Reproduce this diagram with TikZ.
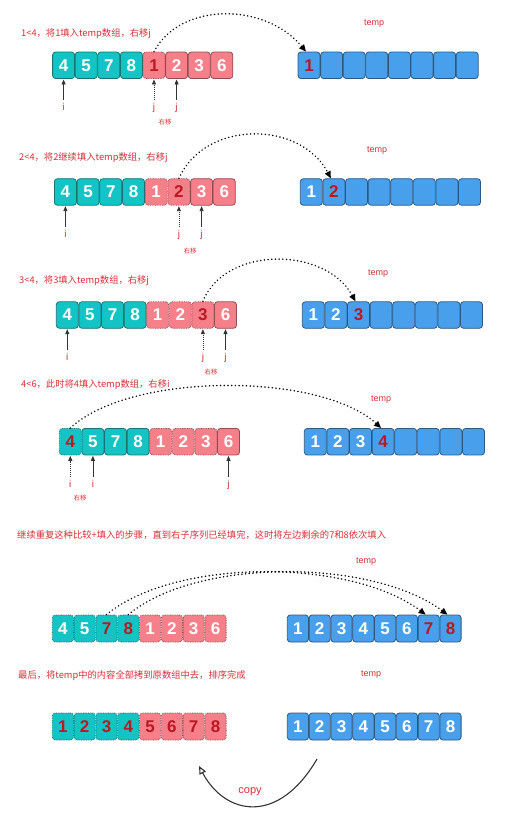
\documentclass[tikz,border=0pt]{standalone}
\usepackage{fontspec}
\setmainfont{Liberation Sans}
\newfontfamily\cjk{Noto Sans CJK SC}
\usetikzlibrary{arrows.meta}
\definecolor{tealF}{RGB}{20,196,196}
\definecolor{tealD}{RGB}{25,115,115}
\definecolor{pinkF}{RGB}{245,128,138}
\definecolor{pinkD}{RGB}{150,75,82}
\definecolor{blueF}{RGB}{72,160,236}
\definecolor{blueD}{RGB}{45,88,130}
\definecolor{txtR}{RGB}{214,48,56}
\definecolor{numR}{RGB}{185,25,35}
\tikzset{
 cell/.style={minimum width=22pt, minimum height=26.5pt, inner sep=0pt, rounded corners=3pt, line width=0.8pt, font=\fontsize{17}{17}\selectfont\bfseries, text=white},
 dotb/.style={dash pattern=on 0.8pt off 0.9pt},
 tb/.style={cell, fill=tealF, draw=tealD},
 tdw/.style={tb, dotb},
 tdr/.style={tdw, text=numR},
 pb/.style={cell, fill=pinkF, draw=pinkD},
 pdw/.style={pb, dotb},
 pdr/.style={pdw, text=numR},
 bw/.style={cell, fill=blueF, draw=blueD},
 br/.style={bw, text=numR},
 small/.style={minimum width=21.2pt, minimum height=27pt},
 heading/.style={anchor=west, inner sep=0pt, text=txtR, font=\cjk\fontsize{9.3}{11}\selectfont},
 templbl/.style={text=txtR, inner sep=0pt, font=\fontsize{9}{10}\selectfont},
 ptrlbl/.style={text=txtR, inner sep=0.5pt, text height=7pt, text depth=2pt, font=\fontsize{10}{10}\selectfont},
 movelbl/.style={text=txtR, inner sep=0pt, font=\cjk\fontsize{6.5}{7}\selectfont},
 ptr/.style={draw=black!80, line width=0.8pt, -{Triangle[length=5pt,width=4pt]}, shorten <=3pt, shorten >=0.5pt},
 ptrdot/.style={ptr, dash pattern=on 0.8pt off 1.2pt},
 conn/.style={draw=black, line width=1.6pt, line cap=round, dash pattern=on 0.1pt off 3.6pt, -{Triangle[length=7pt,width=6pt]}},
 copyarr/.style={draw=black!80, line width=1.1pt, -{Triangle[open,length=8pt,width=7pt]}},
}
\begin{document}
\begin{tikzpicture}[x=1pt,y=-1pt]
\useasboundingbox (0,0) rectangle (510,826);
\fill[white] (0,0) rectangle (510,826);

% ---------- Row 1
\node[heading] (h1) at (21,34) {1<4，将1填入temp数组，右移j};
\node[templbl] (tl1) at (374,24) {temp};
\foreach \n/\s [count=\k] in {4/tb,5/tb,7/tb,8/tb,1/pdr,2/pb,3/pb,6/pb}
  \node[\s] (a1\k) at ({63.6+(\k-1)*22.6},65.3) {\n};
\foreach \n/\s [count=\k] in {1/br,/bw,/bw,/bw,/bw,/bw,/bw,/bw}
  \node[\s] (t1\k) at ({309+(\k-1)*22.6},65.3) {\n};
\node[ptrlbl] (i1) at (a11 |- 0,108) {i};
\node[ptrlbl] (j1a) at (a15 |- 0,108) {j};
\node[ptrlbl] (j1b) at (a16 |- 0,108) {j};
\node[movelbl] (m1) at (165,122) {右移};
\draw[ptr] (i1.north) -- (a11.south);
\draw[ptrdot] (j1a.north) -- (a15.south);
\draw[ptr] (j1b.north) -- (a16.south);
\draw[conn] (a15.north) .. controls (180,2) and (265,2) .. ([xshift=-3pt]t11.north);

% ---------- Row 2
\node[heading] (h2) at (19,158) {2<4，将2继续填入temp数组，右移j};
\node[templbl] (tl2) at (377,151) {temp};
\foreach \n/\s [count=\k] in {4/tb,5/tb,7/tb,8/tb,1/pdw,2/pdr,3/pb,6/pb}
  \node[\s] (a2\k) at ({65.4+(\k-1)*22.7},192) {\n};
\foreach \n/\s [count=\k] in {1/bw,2/br,/bw,/bw,/bw,/bw,/bw,/bw}
  \node[\s] (t2\k) at ({311.3+(\k-1)*22.6},192) {\n};
\node[ptrlbl] (i2) at (a21 |- 0,235) {i};
\node[ptrlbl] (j2a) at (a26 |- 0,235) {j};
\node[ptrlbl] (j2b) at (a27 |- 0,235) {j};
\node[movelbl] (m2) at (190,251) {右移};
\draw[ptr] (i2.north) -- (a21.south);
\draw[ptrdot] (j2a.north) -- (a26.south);
\draw[ptr] (j2b.north) -- (a27.south);
\draw[conn] (a26.north) .. controls (205,120) and (300,120) .. ([xshift=-3pt]t22.north);

% ---------- Row 3
\node[heading] (h3) at (19,281) {3<4，将3填入temp数组，右移j};
\node[templbl] (tl3) at (378,274) {temp};
\foreach \n/\s [count=\k] in {4/tb,5/tb,7/tb,8/tb,1/pdw,2/pdw,3/pdr,6/pb}
  \node[\s] (a3\k) at ({67.3+(\k-1)*22.6},315) {\n};
\foreach \n/\s [count=\k] in {1/bw,2/bw,3/br,/bw,/bw,/bw,/bw,/bw}
  \node[\s] (t3\k) at ({313.3+(\k-1)*22.6},315) {\n};
\node[ptrlbl] (i3) at (a31 |- 0,358) {i};
\node[ptrlbl] (j3a) at (a37 |- 0,358) {j};
\node[ptrlbl] (j3b) at (a38 |- 0,358) {j};
\node[movelbl] (m3) at (211,372) {右移};
\draw[ptr] (i3.north) -- (a31.south);
\draw[ptrdot] (j3a.north) -- (a37.south);
\draw[ptr] (j3b.north) -- (a38.south);
\draw[conn] (a37.north) .. controls (225,246) and (325,246) .. ([xshift=-3pt]t33.north);

% ---------- Row 4
\node[heading] (h4) at (21,385) {4<6，此时将4填入temp数组，右移i};
\node[templbl] (tl4) at (381,400) {temp};
\foreach \n/\s [count=\k] in {4/tdr,5/tb,7/tb,8/tb,1/pdw,2/pdw,3/pdw,6/pb}
  \node[\s] (a4\k) at ({70.3+(\k-1)*22.6},441.7) {\n};
\foreach \n/\s [count=\k] in {1/bw,2/bw,3/bw,4/br,/bw,/bw,/bw,/bw}
  \node[\s] (t4\k) at ({315.3+(\k-1)*22.6},441.7) {\n};
\node[ptrlbl] (i4a) at (a41 |- 0,485) {i};
\node[ptrlbl] (i4b) at (a42 |- 0,485) {i};
\node[ptrlbl] (j4) at (a48 |- 0,485) {j};
\node[movelbl] (m4) at (80,498) {右移};
\draw[ptrdot] (i4a.north) -- (a41.south);
\draw[ptr] (i4b.north) -- (a42.south);
\draw[ptr] (j4.north) -- (a48.south);
\draw[conn] (a41.north) .. controls (130,372) and (320,372) .. ([xshift=-2pt]t44.north);

% ---------- Row 5
\node[heading] (h5) at (17,535) {继续重复这种比较+填入的步骤，直到右子序列已经填完，这时将左边剩余的7和8依次填入};
\node[templbl] (tl5) at (366,562) {temp};
\foreach \n/\s [count=\k] in {4/tdw,5/tdw,7/tdr,8/tdr,1/pdw,2/pdw,3/pdw,6/pdw}
  \node[\s,small] (a5\k) at ({62.9+(\k-1)*21.8},628.5) {\n};
\foreach \n/\s [count=\k] in {1/bw,2/bw,3/bw,4/bw,5/bw,6/bw,7/br,8/br}
  \node[\s,small] (t5\k) at ({297.9+(\k-1)*21.8},628.5) {\n};
\draw[conn] (a53.north) .. controls (175,558) and (350,558) .. ([xshift=-3pt]t57.north);
\draw[conn] (a54.north) .. controls (196,558) and (371,558) .. ([xshift=-3pt]t58.north);

% ---------- Row 6
\node[heading] (h6) at (18,676) {最后，将temp中的内容全部拷到原数组中去，排序完成};
\node[templbl] (tl6) at (371,675) {temp};
\foreach \n/\s [count=\k] in {1/tdr,2/tdr,3/tdr,4/tdr,5/pdr,6/pdr,7/pdr,8/pdr}
  \node[\s,small] (a6\k) at ({62.9+(\k-1)*21.8},726.5) {\n};
\foreach \n/\s [count=\k] in {1/bw,2/bw,3/bw,4/bw,5/bw,6/bw,7/bw,8/bw}
  \node[\s,small] (t6\k) at ({297.9+(\k-1)*21.8},726.5) {\n};
\coordinate (cpS) at (317,759);
\coordinate (cpE) at (199,766);
\draw[copyarr] (cpS) .. controls (278,826) and (225,815) .. (cpE);
\node[text=txtR, inner sep=0pt, font=\fontsize{11}{12}\selectfont] (cp) at (250,792) {copy};
\end{tikzpicture}
\end{document}
